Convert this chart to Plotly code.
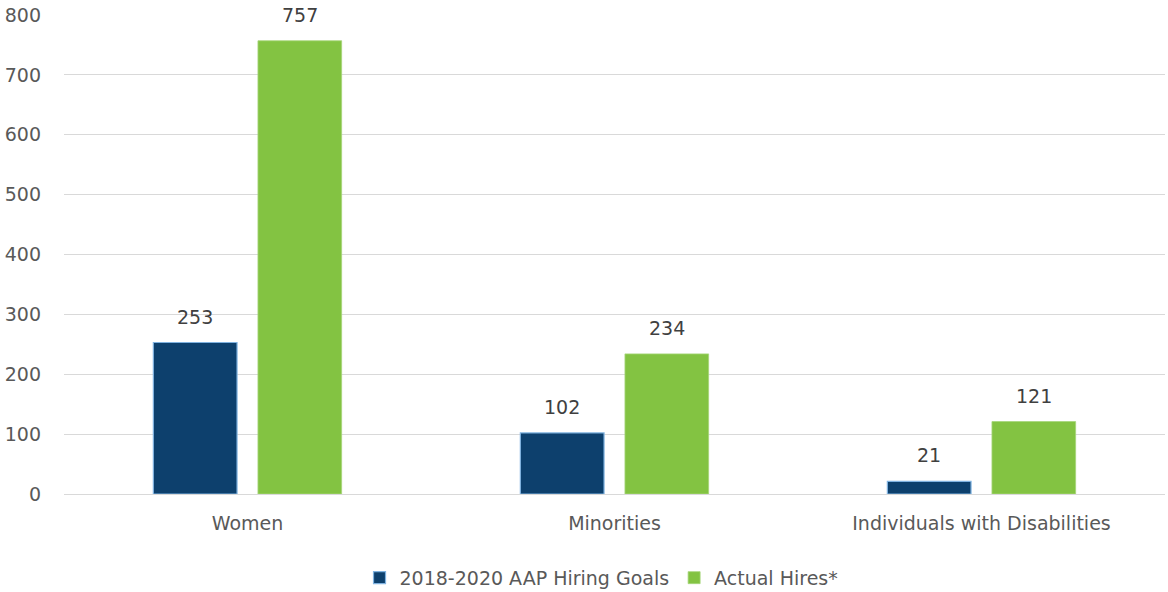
import plotly.graph_objects as go

categories = ["Women", "Minorities", "Individuals with Disabilities"]
hiring_goals = [253, 102, 21]
actual_hires = [757, 234, 121]
series_names = ["2018-2020 AAP Hiring Goals", "Actual Hires*"]
y_ticks = [0, 100, 200, 300, 400, 500, 600, 700, 800]

FONT = "DejaVu Sans, sans-serif"
FONT_SIZE = 19
TEXT_COLOR = "#595959"

fig = go.Figure()
fig.add_trace(go.Bar(
    x=categories, y=hiring_goals, name=series_names[0],
    marker=dict(color="#0D406D", line=dict(color="#7FB2E0", width=1.2)),
))
fig.add_trace(go.Bar(
    x=categories, y=actual_hires, name=series_names[1],
    marker=dict(color="#83C342", line=dict(color="#A6D67A", width=0.8)),
))

# value labels above each bar
for i, cat in enumerate(categories):
    for off, vals in ((-0.5, hiring_goals), (0.5, actual_hires)):
        fig.add_annotation(
            x=i + off * 0.286, y=vals[i], xref="x", yref="y",
            text=str(vals[i]), showarrow=False, yanchor="bottom", yshift=13,
            font=dict(family=FONT, size=FONT_SIZE, color="#404040"),
        )

fig.update_layout(
    width=1168, height=592,
    margin=dict(l=64, r=3, t=15, b=98),
    paper_bgcolor="white", plot_bgcolor="white",
    barmode="group", bargap=0.43, bargroupgap=0.2,
    font=dict(family=FONT, size=FONT_SIZE, color=TEXT_COLOR),
    showlegend=True,
    legend=dict(
        orientation="h", x=0.515, xanchor="center", xref="container",
        y=0.024, yanchor="middle", yref="container",
        font=dict(family=FONT, size=FONT_SIZE, color=TEXT_COLOR),
        itemwidth=30, tracegroupgap=0,
    ),
)
fig.update_xaxes(
    type="category", showgrid=False, showline=False, ticks="",
    tickfont=dict(family=FONT, size=FONT_SIZE, color=TEXT_COLOR),
    ticklabelstandoff=16,
)
fig.update_yaxes(
    range=[0, 800], tickvals=y_ticks, showgrid=True, gridcolor="#D9D9D9",
    gridwidth=1, zeroline=True, zerolinecolor="#D9D9D9", zerolinewidth=1,
    showline=False, ticks="", ticklabelstandoff=22,
    tickfont=dict(family=FONT, size=FONT_SIZE, color=TEXT_COLOR),
)

fig.write_html("out.html")
